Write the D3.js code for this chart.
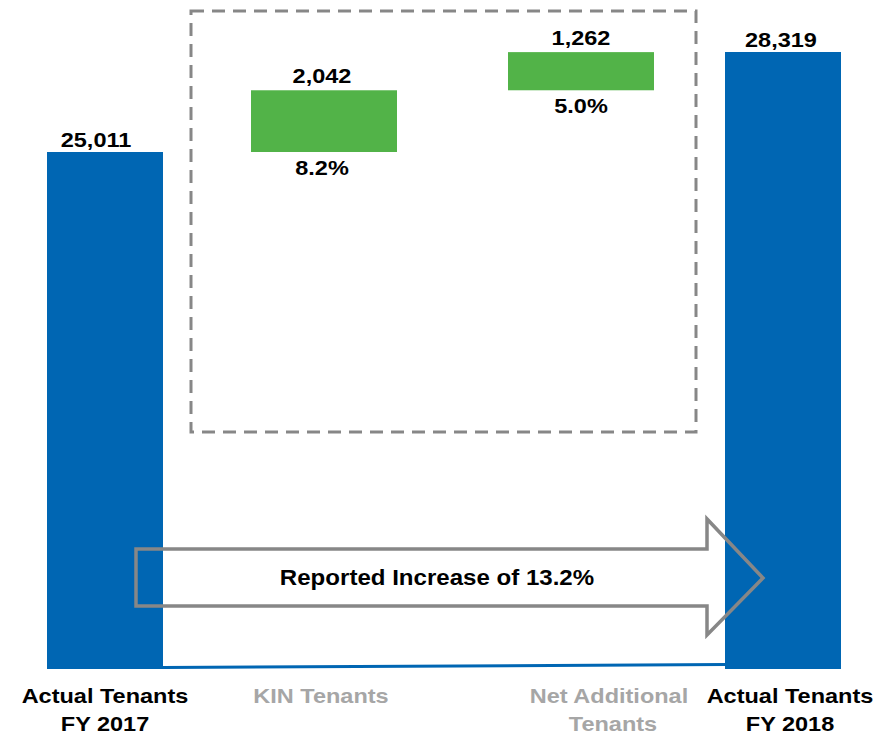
<!DOCTYPE html>
<html>
<head>
<meta charset="utf-8">
<script src="https://cdn.jsdelivr.net/npm/d3@7"></script>
<style>
  html, body { margin: 0; padding: 0; background: #fff; }
  svg { display: block; }
  text { font-family: Arial, "Liberation Sans", sans-serif; font-weight: bold; }
</style>
</head>
<body>
<svg id="chart" width="887" height="735"></svg>
<script>
// Tenant bridge FY 2017 -> FY 2018
const categories = [
  ["Actual Tenants", "FY 2017"],
  ["KIN Tenants"],
  ["Net Additional", "Tenants"],
  ["Actual Tenants", "FY 2018"]
];
const kinds = ["total", "delta", "delta", "total"];
const values = [25011, 2042, 1262, 28319];
const shares = [null, 8.2, 5.0, null];
const increasePct = 13.2;

const svg = d3.select("#chart");

const blue = "#0066b3", green = "#52b348", gray = "#878787", lightGray = "#a6a6a6";

// running totals for the waterfall
let run = 0;
const bars = values.map((v, i) => {
  let lo, hi;
  if (kinds[i] === "total") { lo = null; hi = v; run = v; }
  else { lo = run; hi = run + v; run = hi; }
  return { i, kind: kinds[i], value: v, lo, hi, share: shares[i] };
});

// value axis is cut well above zero so the changes stay visible
const y = d3.scaleLinear().domain([7909, 28319]).range([669, 52]);
const x = d3.scaleLinear().domain([0, 1, 2, 3]).range([105, 324, 581, 783]);
const barW = { total: 116, delta: 146 };
const fmt = d3.format(",");

// wide bold text helper
const TS = 1.12;
function label(g, cx, cy, str, fill, size) {
  return g.append("text")
    .attr("transform", `translate(${cx},${cy}) scale(${TS},1)`)
    .attr("text-anchor", "middle")
    .attr("font-size", size || 21)
    .attr("fill", fill || "#000")
    .text(str);
}

// dashed frame around the two change bars
svg.append("rect")
  .attr("x", 191).attr("y", 11).attr("width", 505).attr("height", 421)
  .attr("fill", "none").attr("stroke", gray).attr("stroke-width", 3)
  .attr("stroke-dasharray", "13 8");

// bars
svg.selectAll("rect.bar").data(bars).join("rect")
  .attr("class", "bar")
  .attr("x", d => x(d.i) - barW[d.kind] / 2)
  .attr("width", d => barW[d.kind])
  .attr("y", d => y(d.hi))
  .attr("height", d => (d.kind === "total" ? y.range()[0] : y(d.lo)) - y(d.hi))
  .attr("fill", d => d.kind === "total" ? blue : green);

// connector along the base of the two totals
const first = bars[0], last = bars[3];
svg.append("line")
  .attr("x1", x(first.i) + barW.total / 2).attr("y1", y.range()[0] - 1.5)
  .attr("x2", x(last.i) - barW.total / 2).attr("y2", y.range()[0] - 4.5)
  .attr("stroke", blue).attr("stroke-width", 3);

// value labels
const valueNudge = [-9, -2, 0, -2];
const lg = svg.append("g");
bars.forEach(d => {
  const cx = x(d.i) + valueNudge[d.i];
  label(lg, cx, y(d.hi) - (d.kind === "total" ? 5 : 7.5), fmt(d.value));
  if (d.share != null) {
    label(lg, cx, y(d.lo) + 23, d3.format(".1f")(d.share) + "%");
  }
});

// outlined arrow with the overall increase
const arrow = d3.path();
const ax0 = 136, ax1 = 707, tip = 763, bodyT = 549, bodyB = 606, headT = 519, headB = 635;
const midY = (bodyT + bodyB) / 2;
arrow.moveTo(ax0, bodyT);
arrow.lineTo(ax1, bodyT);
arrow.lineTo(ax1, headT);
arrow.lineTo(tip, midY + 0.5);
arrow.lineTo(ax1, headB);
arrow.lineTo(ax1, bodyB);
arrow.lineTo(ax0, bodyB);
arrow.closePath();
svg.append("path").attr("d", arrow.toString())
  .attr("fill", "none").attr("stroke", gray).attr("stroke-width", 3.5)
  .attr("stroke-linejoin", "miter");
label(svg, 437, 585, `Reported Increase of ${increasePct.toFixed(1)}%`, "#000", 21.5);

// category labels
const nudge = [0, -3, 28, 7];
const cg = svg.append("g");
categories.forEach((lines, i) => {
  const col = kinds[i] === "total" ? "#000" : lightGray;
  lines.forEach((s, k) => label(cg, x(i) + nudge[i] + (i === 2 && k === 1 ? 4 : 0), 703 + k * 28, s, col));
});
</script>
</body>
</html>
